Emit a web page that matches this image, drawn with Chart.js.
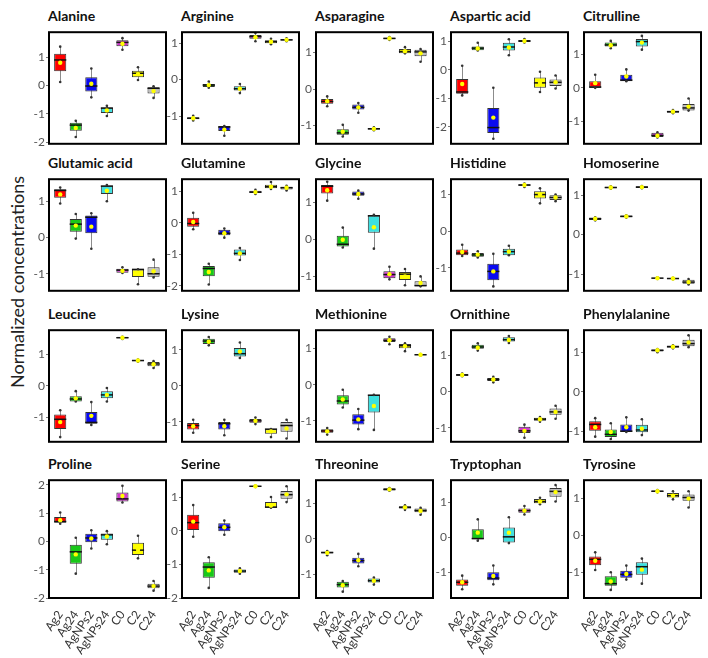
<!DOCTYPE html>
<html><head><meta charset="utf-8">
<script src="https://cdn.jsdelivr.net/npm/chart.js@4/dist/chart.umd.min.js"></script>
<style>
html,body{margin:0;padding:0;background:#fff}
body{width:708px;height:658px;position:relative;overflow:hidden;font-family:Lato,sans-serif}
.t{position:absolute;font-family:Lato,sans-serif;font-weight:700;font-size:14px;color:#111;white-space:nowrap;line-height:16px}
canvas{position:absolute}
#yl{position:absolute;left:17px;top:282px;transform:translate(-50%,-50%) rotate(-90deg);font-family:Lato,sans-serif;font-size:18px;color:#222;white-space:nowrap}
</style></head><body>
<div id="yl">Normalized concentrations</div>
<script>
// ---- data: each group = [low whisker, Q1, median, Q3, high whisker, mean]
const groups = ["Ag2","Ag24","AgNPs2","AgNPs24","C0","C2","C24"];
const colors = ["#ff0000","#19c819","#0a0af0","#3ee0e0","#d035d0","#ffff00","#c0c0c0"];
const acids = ["Alanine","Arginine","Asparagine","Aspartic acid","Citrulline",
  "Glutamic acid","Glutamine","Glycine","Histidine","Homoserine",
  "Leucine","Lysine","Methionine","Ornithine","Phenylalanine",
  "Proline","Serine","Threonine","Tryptophan","Tyrosine"];
const yTicks = [-2,-1,0,1,2];

const alanine = [[0.12,0.5,0.9,1.12,1.37,0.8],[-1.82,-1.6,-1.4,-1.32,-1.25,-1.5],[-0.42,-0.21,-0.02,0.29,0.6,0.06],[-1.08,-0.97,-0.8,-0.78,-0.72,-0.88],[1.26,1.38,1.52,1.6,1.67,1.47],[0.19,0.29,0.43,0.52,0.64,0.4],[-0.44,-0.28,-0.1,-0.06,-0.03,-0.2]];
const arginine = [[-1.12,-1.09,-1.06,-1.03,-0.99,-1.06],[-0.22,-0.2,-0.15,-0.12,-0.05,-0.15],[-1.54,-1.41,-1.3,-1.27,-1.27,-1.37],[-0.37,-0.3,-0.25,-0.18,-0.12,-0.25],[1.05,1.12,1.18,1.22,1.28,1.16],[0.97,1.0,1.04,1.08,1.12,1.04],[1.05,1.07,1.09,1.11,1.13,1.09]];
const asparagine = [[-0.47,-0.4,-0.34,-0.27,-0.2,-0.33],[-1.3,-1.25,-1.2,-1.1,-0.98,-1.17],[-0.65,-0.56,-0.5,-0.42,-0.38,-0.5],[-1.13,-1.11,-1.09,-1.07,-1.05,-1.09],[1.35,1.37,1.39,1.41,1.43,1.39],[0.98,0.98,1.03,1.1,1.15,1.04],[0.75,0.9,1.02,1.08,1.1,0.98]];
const asparticAcid = [[-0.9,-0.84,-0.78,-0.32,0.14,-0.5],[0.68,0.69,0.76,0.82,0.95,0.75],[-2.42,-2.22,-2.03,-1.34,-0.63,-1.68],[0.51,0.68,0.8,0.95,1.07,0.78],[0.96,0.98,1.01,1.05,1.08,1.01],[-0.78,-0.63,-0.46,-0.27,-0.07,-0.46],[-0.66,-0.57,-0.44,-0.34,-0.2,-0.44]];
const citrulline = [[0.0,0.0,0.02,0.2,0.39,0.14],[1.18,1.23,1.28,1.35,1.4,1.27],[0.2,0.2,0.23,0.39,0.55,0.34],[1.14,1.23,1.38,1.46,1.55,1.35],[-1.48,-1.47,-1.42,-1.34,-1.33,-1.43],[-0.76,-0.74,-0.71,-0.69,-0.66,-0.71],[-0.68,-0.68,-0.6,-0.48,-0.32,-0.56]];
const glutamicAcid = [[0.94,1.1,1.3,1.33,1.38,1.19],[-0.03,0.16,0.37,0.51,0.65,0.33],[-0.31,0.12,0.56,0.61,0.67,0.3],[1.0,1.2,1.42,1.43,1.45,1.29],[-0.98,-0.97,-0.9,-0.86,-0.82,-0.92],[-1.29,-1.09,-0.88,-0.88,-0.88,-0.97],[-1.1,-1.08,-1.0,-0.82,-0.61,-0.93]];
const glutamine = [[-0.2,-0.12,-0.02,0.16,0.32,0.03],[-1.96,-1.7,-1.45,-1.37,-1.3,-1.56],[-0.47,-0.39,-0.33,-0.22,-0.18,-0.33],[-1.18,-1.04,-0.97,-0.85,-0.8,-0.97],[0.92,0.95,0.98,1.02,1.05,0.98],[1.08,1.1,1.15,1.21,1.3,1.15],[1.03,1.06,1.12,1.15,1.18,1.12]];
const glycine = [[1.05,1.24,1.44,1.47,1.56,1.33],[-0.22,-0.19,-0.13,0.1,0.32,-0.01],[1.1,1.18,1.23,1.3,1.32,1.23],[-0.25,0.18,0.64,0.65,0.67,0.33],[-1.08,-1.05,-0.95,-0.86,-0.74,-0.94],[-1.24,-1.1,-0.94,-0.88,-0.8,-1.0],[-1.27,-1.27,-1.25,-1.13,-1.0,-1.18]];
const histidine = [[-0.68,-0.66,-0.6,-0.5,-0.37,-0.57],[-0.72,-0.7,-0.65,-0.6,-0.55,-0.64],[-1.51,-1.34,-1.1,-0.89,-0.62,-1.1],[-0.66,-0.66,-0.56,-0.48,-0.4,-0.56],[1.21,1.24,1.26,1.28,1.3,1.26],[0.76,0.89,1.0,1.09,1.17,1.0],[0.82,0.85,0.92,0.98,1.0,0.92]];
const homoserine = [[0.36,0.37,0.4,0.43,0.44,0.4],[1.16,1.17,1.19,1.21,1.22,1.19],[0.43,0.44,0.46,0.48,0.49,0.46],[1.17,1.18,1.2,1.22,1.23,1.2],[-1.12,-1.11,-1.1,-1.09,-1.08,-1.1],[-1.13,-1.12,-1.11,-1.1,-1.09,-1.11],[-1.26,-1.24,-1.2,-1.14,-1.12,-1.2]];
const leucine = [[-1.64,-1.38,-1.07,-0.92,-0.78,-1.16],[-0.5,-0.5,-0.42,-0.33,-0.17,-0.4],[-1.25,-1.21,-1.17,-0.84,-0.52,-0.96],[-0.5,-0.4,-0.29,-0.17,-0.07,-0.29],[1.5,1.52,1.54,1.56,1.57,1.54],[0.77,0.79,0.81,0.83,0.84,0.81],[0.57,0.63,0.7,0.76,0.79,0.69]];
const lysine = [[-1.3,-1.21,-1.1,-1.03,-0.94,-1.12],[1.12,1.16,1.24,1.3,1.35,1.22],[-1.37,-1.21,-1.05,-1.0,-0.94,-1.12],[0.77,0.81,0.89,1.05,1.2,0.95],[-1.06,-1.02,-0.97,-0.92,-0.88,-0.97],[-1.42,-1.33,-1.2,-1.2,-1.2,-1.26],[-1.46,-1.27,-1.1,-1.0,-0.94,-1.18]];
const methionine = [[-1.38,-1.33,-1.28,-1.23,-1.2,-1.29],[-0.63,-0.55,-0.45,-0.29,-0.14,-0.41],[-1.23,-1.1,-0.98,-0.82,-0.67,-0.96],[-1.25,-0.77,-0.29,-0.28,-0.28,-0.59],[1.12,1.18,1.23,1.29,1.33,1.23],[0.93,1.01,1.08,1.13,1.15,1.07],[0.81,0.82,0.83,0.84,0.85,0.83]];
const ornithine = [[0.42,0.43,0.45,0.48,0.49,0.45],[1.12,1.17,1.22,1.28,1.32,1.2],[0.25,0.29,0.33,0.37,0.4,0.33],[1.33,1.37,1.42,1.49,1.52,1.41],[-1.27,-1.14,-1.08,-0.97,-0.91,-1.08],[-0.83,-0.8,-0.76,-0.72,-0.7,-0.76],[-0.75,-0.64,-0.56,-0.47,-0.39,-0.56]];
const phenylalanine = [[-1.14,-0.99,-0.83,-0.75,-0.67,-0.9],[-1.2,-1.15,-1.08,-0.96,-0.8,-1.02],[-1.02,-1.02,-1.0,-0.83,-0.65,-0.9],[-1.1,-1.03,-0.97,-0.84,-0.7,-0.94],[1.0,1.02,1.05,1.07,1.08,1.05],[1.1,1.12,1.14,1.17,1.18,1.14],[1.13,1.15,1.22,1.32,1.43,1.25]];
const proline = [[0.62,0.66,0.7,0.86,1.02,0.75],[-1.14,-0.79,-0.37,-0.12,0.13,-0.46],[-0.25,-0.03,0.12,0.27,0.39,0.1],[-0.1,0.06,0.23,0.28,0.36,0.17],[1.37,1.41,1.5,1.73,1.96,1.6],[-0.6,-0.48,-0.31,-0.05,0.2,-0.3],[-1.74,-1.66,-1.58,-1.5,-1.4,-1.58]];
const serine = [[-0.18,0.02,0.24,0.47,0.76,0.27],[-1.7,-1.4,-1.08,-0.94,-0.79,-1.18],[-0.12,-0.02,0.1,0.22,0.3,0.1],[-1.28,-1.25,-1.2,-1.15,-1.12,-1.2],[1.3,1.31,1.32,1.33,1.34,1.32],[0.68,0.68,0.7,0.85,1.0,0.75],[0.85,0.95,1.07,1.18,1.32,1.08]];
const threonine = [[-0.47,-0.42,-0.39,-0.37,-0.35,-0.4],[-1.5,-1.38,-1.3,-1.22,-1.2,-1.32],[-0.78,-0.7,-0.62,-0.54,-0.43,-0.61],[-1.3,-1.24,-1.19,-1.13,-1.1,-1.19],[1.36,1.37,1.4,1.43,1.44,1.4],[0.82,0.86,0.89,0.92,0.95,0.89],[0.68,0.75,0.8,0.86,0.88,0.79]];
const tryptophan = [[-1.48,-1.38,-1.28,-1.2,-1.09,-1.28],[-0.09,-0.05,-0.03,0.24,0.52,0.14],[-1.34,-1.22,-1.16,-0.99,-0.8,-1.1],[-0.16,-0.14,0.02,0.29,0.58,0.14],[0.66,0.71,0.77,0.83,0.9,0.77],[0.95,0.98,1.03,1.1,1.14,1.03],[1.03,1.17,1.32,1.42,1.5,1.3]];
const tyrosine = [[-0.94,-0.81,-0.65,-0.57,-0.46,-0.69],[-1.48,-1.37,-1.31,-1.11,-1.0,-1.25],[-1.2,-1.15,-1.06,-0.96,-0.82,-1.05],[-1.31,-1.07,-0.85,-0.73,-0.63,-0.93],[1.17,1.18,1.2,1.22,1.23,1.2],[0.98,1.03,1.08,1.15,1.2,1.08],[0.76,0.94,1.03,1.11,1.2,1.0]];

const panelStats = [alanine,arginine,asparagine,asparticAcid,citrulline,
  glutamicAcid,glutamine,glycine,histidine,homoserine,
  leucine,lysine,methionine,ornithine,phenylalanine,
  proline,serine,threonine,tryptophan,tyrosine];
// y-axis ranges per panel [min, max]
const yRanges = [[-2.06,1.88],[-1.76,1.3],[-1.5,1.56],[-2.6,1.32],[-1.67,1.66],
  [-1.47,1.61],[-2.16,1.39],[-1.39,1.63],[-1.63,1.42],[-1.42,1.4],
  [-1.79,1.78],[-1.55,1.54],[-1.58,1.51],[-1.38,1.68],[-1.27,1.56],
  [-2.0,2.16],[-2.0,1.5],[-1.68,1.66],[-1.73,1.64],[-1.7,1.5]];

// ---- layout
const colLeft = [49,182,316,451,584];
const rowTop = [26,173,324,474];
const boxW = 117, boxH = 124, yAxisW = 22, padL = 2, padT = 2, padR = 4, padB = 2, xAxisH = 58;

const boxPlugin = {
  id: 'boxplotExtras',
  beforeDatasetsDraw(chart) {
    const stats = chart.data.datasets[0].stats;
    const {ctx, scales: {x, y}} = chart;
    ctx.save();
    ctx.strokeStyle = '#8c8c8c'; ctx.lineWidth = 1;
    stats.forEach((s, i) => {
      const px = Math.round(x.getPixelForValue(i)) + 0.5;
      ctx.beginPath();
      ctx.moveTo(px, y.getPixelForValue(s[0]));
      ctx.lineTo(px, y.getPixelForValue(s[4]));
      ctx.stroke();
    });
    ctx.restore();
  },
  afterDatasetsDraw(chart) {
    const stats = chart.data.datasets[0].stats;
    const {ctx, scales: {x, y}, chartArea} = chart;
    const meta = chart.getDatasetMeta(0);
    ctx.save();
    stats.forEach((s, i) => {
      const bar = meta.data[i];
      const w = bar.width;
      const px = x.getPixelForValue(i);
      const my = y.getPixelForValue(s[2]);
      ctx.strokeStyle = '#111'; ctx.lineWidth = 1.5;
      ctx.beginPath(); ctx.moveTo(px - w / 2, my); ctx.lineTo(px + w / 2, my); ctx.stroke();
      ctx.fillStyle = '#333';
      [s[0], s[4]].forEach(v => {
        ctx.beginPath(); ctx.arc(px, y.getPixelForValue(v), 1.3, 0, Math.PI * 2); ctx.fill();
      });
      ctx.fillStyle = '#ffff00';
      ctx.beginPath(); ctx.arc(px, y.getPixelForValue(s[5]), 2.2, 0, Math.PI * 2); ctx.fill();
    });
    ctx.strokeStyle = '#000'; ctx.lineWidth = 2;
    ctx.strokeRect(chartArea.left, chartArea.top, chartArea.right - chartArea.left, chartArea.bottom - chartArea.top);
    ctx.restore();
  }
};

acids.forEach((name, k) => {
  const r = Math.floor(k / 5), c = k % 5;
  const bottom = r === 3;
  const left = colLeft[c], top = rowTop[r];
  const title = document.createElement('div');
  title.className = 't';
  title.textContent = name;
  title.style.left = (left - 1) + 'px';
  title.style.top = (top - 18) + 'px';
  document.body.appendChild(title);

  const cv = document.createElement('canvas');
  const W = padL + yAxisW + boxW + padR;
  const H = padT + boxH + padB + (bottom ? xAxisH : 0);
  cv.width = W; cv.height = H;
  cv.style.width = W + 'px'; cv.style.height = H + 'px';
  cv.style.left = (left - padL - yAxisW) + 'px';
  cv.style.top = (top - padT) + 'px';
  document.body.appendChild(cv);

  const stats = panelStats[k];
  new Chart(cv, {
    type: 'bar',
    data: {
      datasets: [{
        stats: stats,
        data: stats.map((s, i) => ({x: i, y: [s[1], s[3]]})),
        backgroundColor: colors,
        borderColor: '#333',
        borderWidth: 1,
        borderSkipped: false,
        barPercentage: 0.78,
        categoryPercentage: 1
      }]
    },
    options: {
      responsive: false,
      animation: false,
      events: [],
      layout: {padding: {left: padL, top: padT, right: padR, bottom: padB}},
      plugins: {legend: {display: false}, tooltip: {enabled: false}},
      scales: {
        x: {
          type: 'linear', display: bottom, min: -0.72, max: 6.8, offset: false,
          grid: {display: false, offset: false}, border: {display: false},
          ticks: {
            stepSize: 1, includeBounds: false, autoSkip: false,
            minRotation: 55, maxRotation: 55, padding: 2,
            font: {family: 'Lato', size: 12}, color: '#333',
            callback: v => Number.isInteger(v) ? groups[v] : ''
          },
          afterFit: s => { s.height = bottom ? xAxisH : 0; }
        },
        y: {
          min: yRanges[k][0], max: yRanges[k][1],
          afterBuildTicks: s => { s.ticks = yTicks.filter(v => v >= s.min && v <= s.max).map(v => ({value: v})); },
          grid: {display: true, drawOnChartArea: false, drawTicks: true, tickLength: 3, color: '#777'},
          border: {display: false},
          ticks: {font: {family: 'Lato', size: 12}, color: '#555', padding: 1},
          afterFit: s => { s.width = yAxisW; }
        }
      }
    },
    plugins: [boxPlugin]
  });
});
</script>
</body></html>
